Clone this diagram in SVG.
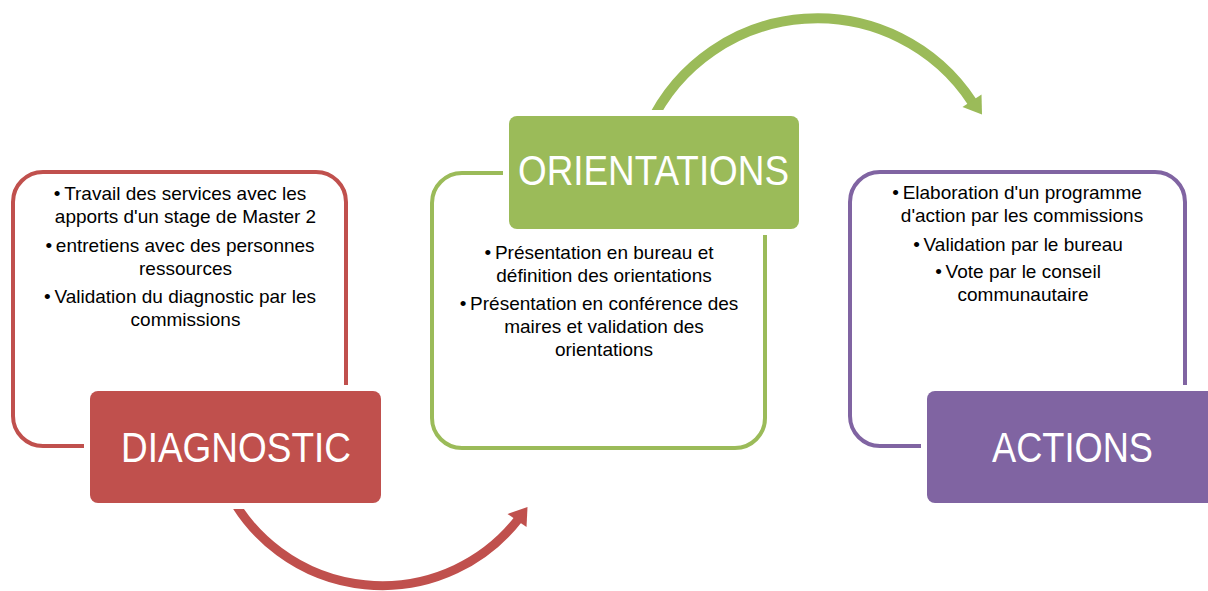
<svg xmlns="http://www.w3.org/2000/svg" width="1208" height="591" viewBox="0 0 1208 591">
<style>
.outline{fill:none;stroke-width:4}
.head{stroke:#fff;stroke-width:12;paint-order:stroke fill}
.title{font-family:"Liberation Sans",Arial,sans-serif;font-size:42px;fill:#fff;text-anchor:middle}
.body{font-family:"Liberation Sans",Arial,sans-serif;font-size:19px;fill:#000;text-anchor:middle}
.red{stroke:#C0504D}
.green{stroke:#9BBB59}
.purple{stroke:#8064A2}
</style>
<rect width="1208" height="591" fill="#fff"/>
<g id="connectors">
  <path d="M227.5,490 A172.8,172.8 0 0 0 518.5,519" fill="none" stroke="#C0504D" stroke-width="9"/>
  <polygon points="527.5,507 526.5,527 507.5,514" fill="#C0504D"/>
  <path d="M649.5,125 A185.3,185.3 0 0 1 972.5,102.5" fill="none" stroke="#9BBB59" stroke-width="10"/>
  <polygon points="982,114.5 981.5,94.5 962.5,107" fill="#9BBB59"/>
</g>
<g id="diagnostic">
  <rect class="outline red" x="13" y="172" width="333" height="274" rx="30"/>
  <text class="body" x="180" y="200">•&#8201;Travail des services avec les</text>
  <text class="body" x="185.5" y="223">apports d'un stage de Master 2</text>
  <text class="body" x="180" y="252">•&#8201;entretiens avec des personnes</text>
  <text class="body" x="185.5" y="275">ressources</text>
  <text class="body" x="180" y="303">•&#8201;Validation du diagnostic par les</text>
  <text class="body" x="185.5" y="326">commissions</text>
  <rect class="head" x="90" y="391" width="291" height="112" rx="8" fill="#C0504D"/>
  <text class="title" x="236" y="462" textLength="230" lengthAdjust="spacingAndGlyphs">DIAGNOSTIC</text>
</g>
<g id="orientations">
  <rect class="outline green" x="432" y="173" width="333" height="275" rx="30"/>
  <text class="body" x="599" y="259">•&#8201;Présentation en bureau et</text>
  <text class="body" x="604" y="282">définition des orientations</text>
  <text class="body" x="599" y="310">•&#8201;Présentation en conférence des</text>
  <text class="body" x="604" y="333">maires et validation des</text>
  <text class="body" x="604" y="356">orientations</text>
  <rect class="head" x="509" y="116" width="290" height="113" rx="8" fill="#9BBB59"/>
  <text class="title" x="653.5" y="185" textLength="271" lengthAdjust="spacingAndGlyphs">ORIENTATIONS</text>
</g>
<g id="actions">
  <rect class="outline purple" x="850" y="172" width="335" height="274" rx="30"/>
  <text class="body" x="1017" y="199">•&#8201;Elaboration d'un programme</text>
  <text class="body" x="1022" y="222">d'action par les commissions</text>
  <text class="body" x="1018" y="251">•&#8201;Validation par le bureau</text>
  <text class="body" x="1018" y="278">•&#8201;Vote par le conseil</text>
  <text class="body" x="1023" y="301">communautaire</text>
  <rect class="head" x="927" y="391" width="291" height="112" rx="8" fill="#8064A2"/>
  <text class="title" x="1072.5" y="462" textLength="161" lengthAdjust="spacingAndGlyphs">ACTIONS</text>
</g>
</svg>
